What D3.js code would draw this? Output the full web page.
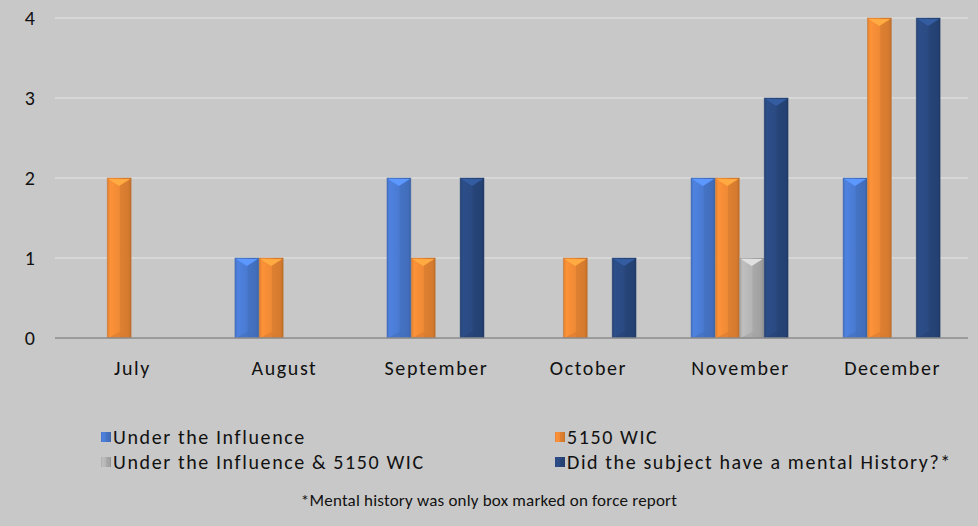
<!DOCTYPE html>
<html>
<head>
<meta charset="utf-8">
<script src="https://cdn.jsdelivr.net/npm/d3@7"></script>
<style>
  body { margin: 0; background: #c8c8c8; }
  svg { display: block; font-family: Carlito, "Liberation Sans", "Open Sans", sans-serif; }
</style>
</head>
<body>
<div id="chart"></div>
<script>
// months on the x axis
var months = ['July', 'August', 'September', 'October', 'November', 'December'];

// series values, one per month
var underInfluence = [0, 1, 2, 0, 2, 2];
var wic5150 = [2, 1, 1, 1, 2, 4];
var influenceAnd5150 = [0, 0, 0, 0, 1, 0];
var mentalHistory = [0, 0, 2, 1, 3, 4];

var seriesNames = ['Under the Influence', '5150 WIC', 'Under the Influence & 5150 WIC', 'Did the subject have a mental History?*'];
var seriesColors = ['#4a7bd3', '#f08a35', '#b5b5b5', '#2a4a82'];
var yTicks = [0, 1, 2, 3, 4];
var footnote = '*Mental history was only box marked on force report';

var width = 978, height = 526;
var margin = {top: 18, right: 10, bottom: 188, left: 55};

var svg = d3.select('#chart').append('svg')
  .attr('width', width)
  .attr('height', height);

var allSeries = [underInfluence, wic5150, influenceAnd5150, mentalHistory];

var x = d3.scaleBand()
  .domain(months)
  .range([margin.left, width - margin.right])
  .paddingInner(0.355)
  .paddingOuter(0.18);

var xs = d3.scaleBand()
  .domain(d3.range(allSeries.length))
  .range([0, x.bandwidth()])
  .padding(0.02);

var y = d3.scaleLinear()
  .domain([0, 4])
  .range([height - margin.bottom, margin.top]);

// gradients for the bevel look
var defs = svg.append('defs');
seriesColors.forEach(function(c, i) {
  var g = defs.append('linearGradient').attr('id', 'grad' + i)
    .attr('x1', '0%').attr('x2', '100%').attr('y1', '0%').attr('y2', '0%');
  var col = d3.color(c);
  g.append('stop').attr('offset', '0%').attr('stop-color', col.darker(0.25));
  g.append('stop').attr('offset', '12%').attr('stop-color', col.brighter(0.15));
  g.append('stop').attr('offset', '50%').attr('stop-color', col);
  g.append('stop').attr('offset', '55%').attr('stop-color', col.darker(0.2));
  g.append('stop').attr('offset', '90%').attr('stop-color', col.darker(0.35));
  g.append('stop').attr('offset', '100%').attr('stop-color', col.darker(0.7));
});

// gridlines
svg.append('g').selectAll('line')
  .data(yTicks.slice(1))
  .enter().append('line')
    .attr('x1', margin.left)
    .attr('x2', width - margin.right)
    .attr('y1', function(d) { return y(d); })
    .attr('y2', function(d) { return y(d); })
    .attr('stroke', '#dcdcdc')
    .attr('stroke-width', 1.5);

// y labels
svg.append('g').selectAll('text')
  .data(yTicks)
  .enter().append('text')
    .attr('x', 35)
    .attr('y', function(d) { return y(d); })
    .attr('dy', '0.35em')
    .attr('text-anchor', 'end')
    .attr('font-size', 20)
    .attr('fill', '#111')
    .text(function(d) { return d; });

// bars
var groups = svg.append('g').selectAll('g')
  .data(months)
  .enter().append('g')
    .attr('transform', function(d) { return 'translate(' + x(d) + ',0)'; });

groups.each(function(m, mi) {
  var g = d3.select(this);
  allSeries.forEach(function(s, si) {
    var v = s[mi];
    if (!v) return;
    var bx = xs(si), bw = xs.bandwidth();
    var top = y(v), bot = y(0);
    var col = d3.color(seriesColors[si]);
    g.append('rect')
      .attr('x', bx).attr('y', top)
      .attr('width', bw).attr('height', bot - top)
      .attr('fill', 'url(#grad' + si + ')')
      .attr('stroke', col.darker(0.6))
      .attr('stroke-opacity', 0.5)
      .attr('stroke-width', 0.8);
    // top bevel triangle
    g.append('polygon')
      .attr('points', [[bx + 1, top + 1], [bx + bw - 1, top + 1], [bx + bw / 2, top + 8]].join(' '))
      .attr('fill', col.brighter(0.6));
    // bottom bevel triangle
    g.append('polygon')
      .attr('points', [[bx + 1, bot], [bx + bw - 1, bot], [bx + bw / 2, bot - 6]].join(' '))
      .attr('fill', col.darker(0.3))
      .attr('opacity', 0.6);
  });
});

// baseline
svg.append('line')
  .attr('x1', margin.left)
  .attr('x2', width - margin.right)
  .attr('y1', y(0))
  .attr('y2', y(0))
  .attr('stroke', '#8c8c8c')
  .attr('stroke-width', 1.5);

// x labels
svg.append('g').selectAll('text')
  .data(months)
  .enter().append('text')
    .attr('x', function(d) { return x(d) + x.bandwidth() / 2 + 1; })
    .attr('y', 375)
    .attr('text-anchor', 'middle')
    .attr('font-size', 20)
    .attr('letter-spacing', 1.6)
    .attr('fill', '#111')
    .text(function(d) { return d; });

// legend
var legendPos = [[101, 437], [555, 437], [101, 462], [555, 462]];
var legend = svg.append('g').selectAll('g')
  .data(seriesNames)
  .enter().append('g')
    .attr('transform', function(d, i) { return 'translate(' + legendPos[i][0] + ',' + legendPos[i][1] + ')'; });

legend.append('rect')
  .attr('x', 0).attr('y', -5)
  .attr('width', 10).attr('height', 10)
  .attr('fill', function(d, i) { return 'url(#grad' + i + ')'; });

legend.append('text')
  .attr('x', 12)
  .attr('y', 0)
  .attr('dy', '0.35em')
  .attr('font-size', 20)
  .attr('letter-spacing', 1.6)
  .attr('fill', '#111')
  .text(function(d) { return d; });

// footnote
svg.append('text')
  .attr('x', 489)
  .attr('y', 500)
  .attr('dy', '0.35em')
  .attr('text-anchor', 'middle')
  .attr('font-size', 17)
  .attr('letter-spacing', 0.2)
  .attr('fill', '#111')
  .text(footnote);
</script>
</body>
</html>
